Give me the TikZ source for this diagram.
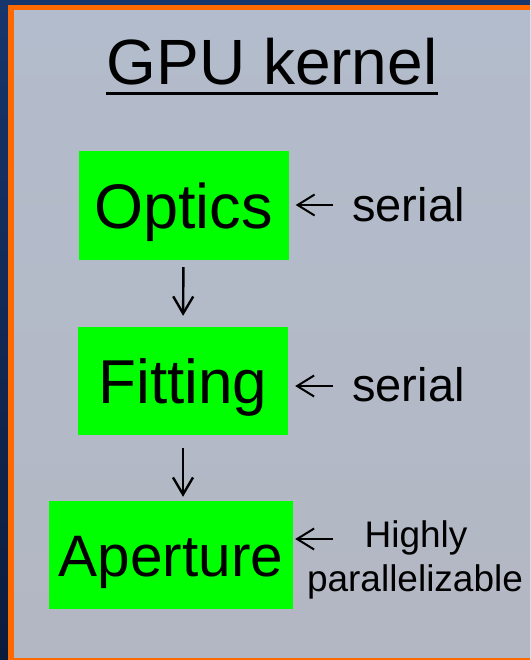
\documentclass[tikz,border=0pt]{standalone}
\usepackage{fontspec}
\setmainfont{Liberation Sans}
\usetikzlibrary{arrows.meta}

\definecolor{navytop}{HTML}{17366D}
\definecolor{navybot}{HTML}{0B1B3C}
\definecolor{rim}{HTML}{FF6A00}
\definecolor{slatetop}{HTML}{B3BCCC}
\definecolor{slatebot}{HTML}{B3B7C3}
\definecolor{stagegreen}{HTML}{00FF00}

\newcommand{\fsize}[1]{\fontsize{#1}{#1}\selectfont}

\tikzstyle{title}=[inner sep=0pt, font=\fsize{64}]
\tikzstyle{stage}=[fill=stagegreen, inner sep=0pt, minimum height=108pt, text depth=0pt]
\tikzstyle{note}=[inner sep=0pt, font=\fsize{47}]
\tikzstyle{small note}=[inner sep=0pt, font=\fsize{37}]
\tikzstyle{flow}=[line width=2.4pt, -{Straight Barb[length=17pt,width=20pt]}]
\tikzstyle{side}=[line width=2pt, -{Straight Barb[length=17pt,width=21pt]}]

\newcommand{\setup}{
    \coordinate (inA) at (333,205);
    \coordinate (inB) at (333,386);
    \coordinate (inC) at (333,539);
}

\begin{document}
\begin{tikzpicture}[x=1pt,y=-1pt]
  \useasboundingbox (0,0) rectangle (530,660);
  \setup;

  % slide frame
  \shade[top color=navytop, bottom color=navybot] (0,0) rectangle (530,660);
  \fill[rim] (8,5) rectangle (530,660);
  \shade[top color=slatetop, bottom color=slatebot] (14,11) rectangle (530,657);

  % heading
  \node[title, anchor=base] (title) at (272,85) {GPU kernel};
  \draw[line width=3pt] ([yshift=-8.5pt]title.base west) -- ([yshift=-8.5pt]title.base east);

  % the three stages (text height = cap height of the font)
  \node[stage, minimum width=210pt, font=\fsize{63}, text height=45pt]
       (optics)   at (183.5,205.5) {Optics};
  \node[stage, minimum width=210pt, font=\fsize{62}, text height=44.5pt]
       (fitting)  at (183,381)     {Fitting};
  \node[stage, minimum width=244pt, font=\fsize{58.5}, text height=42pt]
       (aperture) at (171,555)     {Aperture};

  \draw[flow, shorten <=7.5pt, shorten >=11pt] (optics.south) -- (fitting.north);
  \draw[flow, shorten <=13pt, shorten >=4pt] (fitting.south) -- (fitting.south |- aperture.north);

  % how each stage runs
  \node[note, anchor=base] (serialA) at (408.5,221) {serial};
  \node[note, anchor=base] (serialB) at (408.5,401) {serial};
  \node[small note, anchor=base] (highly)   at (416,547) {Highly};
  \node[small note, anchor=base] (parallel) at (415,591) {parallelizable};

  \draw[side, shorten >=7pt] (inA) -- (inA -| optics.east);
  \draw[side, shorten >=7pt] (inB) -- (inB -| fitting.east);
  \draw[side, shorten >=2pt] (inC) -- (inC -| aperture.east);
\end{tikzpicture}
\end{document}
